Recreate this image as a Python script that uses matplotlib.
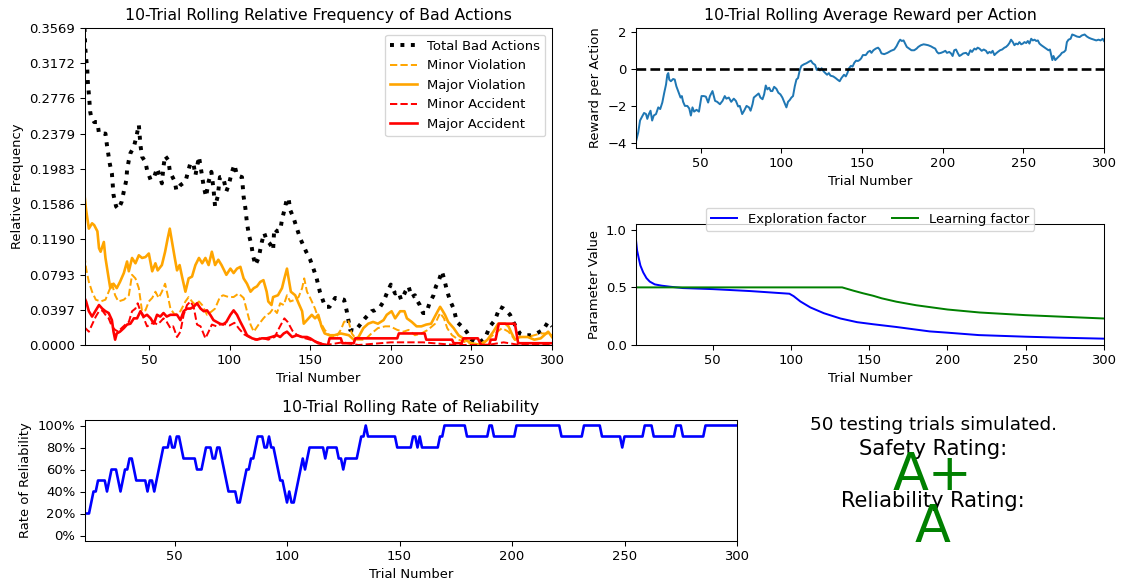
import numpy as np
import matplotlib
matplotlib.use("Agg")
import matplotlib.pyplot as plt

# ---------------- data ----------------
total_t = [10, 10.5, 11, 11.7, 12, 12.5, 13, 13.5, 14, 16, 18, 19, 23, 24, 25.7, 27, 28, 29.6, 31, 33,
           34.4, 36, 36.4, 37.5, 38.5, 40.6, 42, 43.7, 44.7, 45.7, 47.8, 48.8, 51, 53, 55, 57, 58, 59, 60, 62,
           63, 66, 67, 69.5, 72.6, 75.7, 77.7, 78.8, 81, 82, 84, 85.4, 87, 88.7, 90, 91, 92.6, 94, 96, 98,
           99.4, 101.5, 103, 104.6, 107.7, 108.7, 109.8, 110.8, 112, 113.5, 114.5, 116, 118, 120, 121.5, 123,
           125, 127, 127.7, 129.4, 131.4, 132.5, 134, 135.6, 136.6, 137.6, 139.7, 141.8, 143.8, 145.5, 147.5,
           150, 152, 154, 156, 159.3, 162, 165.5, 171, 172.7, 174.8, 178, 181, 184, 186, 188, 190, 193.4,
           195.5, 197.5, 200, 202.7, 204.7, 206.4, 208, 209, 211, 213, 215, 216, 218, 220, 222, 224, 226.5,
           228, 229.5, 231.7, 233, 235, 237, 239, 241, 244, 247, 250, 254.3, 258.4, 261.5, 264.6, 267.7, 270,
           272, 274, 276, 280, 283, 287, 290.4, 294.5, 297.6, 300]
total_v = [0.3569, 0.334, 0.323, 0.311, 0.298, 0.287, 0.276, 0.263, 0.258, 0.251, 0.251, 0.238, 0.238, 0.224,
           0.204, 0.193, 0.169, 0.156, 0.153, 0.161, 0.173, 0.186, 0.197, 0.208, 0.216, 0.223, 0.233, 0.248,
           0.225, 0.212, 0.206, 0.197, 0.186, 0.188, 0.199, 0.189, 0.182, 0.201, 0.213, 0.208, 0.195, 0.184,
           0.174, 0.180, 0.184, 0.205, 0.203, 0.191, 0.212, 0.201, 0.178, 0.167, 0.184, 0.195, 0.176, 0.156,
           0.167, 0.189, 0.189, 0.173, 0.180, 0.195, 0.203, 0.191, 0.189, 0.167, 0.154, 0.137, 0.124, 0.113,
           0.101, 0.090, 0.098, 0.116, 0.126, 0.118, 0.114, 0.107, 0.131, 0.128, 0.129, 0.141, 0.152, 0.165,
           0.165, 0.152, 0.143, 0.131, 0.120, 0.113, 0.105, 0.096, 0.086, 0.075, 0.060, 0.043, 0.043, 0.053,
           0.051, 0.038, 0.017, 0.016, 0.023, 0.030, 0.034, 0.038, 0.039, 0.043, 0.049, 0.058, 0.068, 0.058,
           0.060, 0.051, 0.056, 0.060, 0.066, 0.054, 0.056, 0.051, 0.045, 0.036, 0.036, 0.047, 0.056, 0.066,
           0.071, 0.083, 0.075, 0.060, 0.049, 0.041, 0.026, 0.021, 0.015, 0.006, 0.002, 0.0075, 0.021, 0.028,
           0.043, 0.041, 0.038, 0.034, 0.026, 0.013, 0.011, 0.011, 0.013, 0.017, 0.026, 0.021]

minor_viol_t = [10, 11, 12.7, 14.7, 17, 20, 23, 25, 27, 29, 31, 34.4, 37.5, 39.5, 41.6, 43.7, 45.7, 47.8, 49.9,
                52, 54, 56, 58, 60, 61.6, 63.3, 66, 69.5, 72.6, 74.6, 76.7, 78.8, 81, 83, 86, 89, 91, 94, 96,
                99.4, 102.5, 105.6, 108.7, 110.8, 113, 115, 118, 121, 123, 125, 127, 129.4, 131.4, 133.6,
                135.6, 137.6, 140.7, 142.8, 145, 146.3, 148, 150, 153, 155, 159, 163, 166, 169, 171, 173.6,
                175.8, 178.8, 184, 188, 192, 196.5, 199.6, 204, 208, 211, 215, 219, 223, 227.5, 230.6, 233,
                235, 238, 242, 248, 254, 260, 264.6, 269, 273, 277, 281, 285, 289, 293, 297.6, 300]
minor_viol_v = [0.101, 0.086, 0.071, 0.060, 0.051, 0.049, 0.051, 0.060, 0.069, 0.056, 0.049, 0.051, 0.056,
                0.079, 0.075, 0.064, 0.038, 0.039, 0.049, 0.053, 0.060, 0.053, 0.060, 0.069, 0.056, 0.041,
                0.034, 0.038, 0.049, 0.054, 0.049, 0.045, 0.049, 0.045, 0.034, 0.038, 0.041, 0.054, 0.056,
                0.054, 0.054, 0.058, 0.053, 0.038, 0.023, 0.015, 0.023, 0.030, 0.034, 0.036, 0.041, 0.036,
                0.047, 0.045, 0.056, 0.049, 0.051, 0.054, 0.064, 0.075, 0.060, 0.053, 0.041, 0.030, 0.017,
                0.009, 0.009, 0.017, 0.026, 0.028, 0.013, 0.006, 0.006, 0.013, 0.019, 0.021, 0.021, 0.017,
                0.015, 0.017, 0.011, 0.013, 0.017, 0.024, 0.036, 0.030, 0.019, 0.011, 0.006, 0.002, 0.0,
                0.006, 0.013, 0.019, 0.015, 0.006, 0.009, 0.009, 0.011, 0.013, 0.013, 0.011]

major_viol_t = [10, 11, 12.7, 14.7, 16, 18, 19, 20, 22, 23, 25, 26, 28, 30, 32, 34.4, 36.4, 37.5, 39.5, 41.6,
                43.7, 45.7, 47.8, 49.9, 52, 54, 55.4, 58, 60, 61.6, 62.9, 64.3, 66, 67.4, 69, 70.5, 72.6,
                74.6, 76.7, 78.8, 81, 83, 85, 87, 89, 91, 93, 95, 98, 100.5, 102.5, 104.6, 106.7, 108.7,
                110.8, 113, 115, 117, 119, 121, 123, 124, 126, 127, 130, 132.5, 134, 135.6, 136.6, 138,
                140.7, 142.8, 145, 146, 148, 151, 153, 155, 157, 159, 162, 165, 169, 174, 177, 180, 183,
                186, 189, 192, 195.5, 197.5, 200.5, 202.7, 205.8, 208.5, 210, 213, 216, 219, 222, 225,
                228.5, 230.6, 232, 233.6, 235.6, 239, 242, 246, 250, 256, 260, 263.6, 266.6, 271, 273,
                275, 277, 280, 285, 289, 293, 297.6, 300]
major_viol_v = [0.169, 0.152, 0.131, 0.137, 0.135, 0.128, 0.109, 0.105, 0.116, 0.098, 0.075, 0.064, 0.069,
                0.064, 0.071, 0.081, 0.094, 0.083, 0.098, 0.092, 0.101, 0.098, 0.099, 0.103, 0.083, 0.092,
                0.084, 0.090, 0.105, 0.120, 0.131, 0.116, 0.098, 0.084, 0.090, 0.077, 0.060, 0.075, 0.077,
                0.090, 0.098, 0.092, 0.098, 0.090, 0.105, 0.090, 0.096, 0.090, 0.079, 0.086, 0.081, 0.086,
                0.088, 0.075, 0.069, 0.060, 0.064, 0.066, 0.071, 0.073, 0.060, 0.049, 0.045, 0.054, 0.056,
                0.064, 0.075, 0.086, 0.075, 0.060, 0.056, 0.047, 0.038, 0.024, 0.028, 0.034, 0.030, 0.034,
                0.021, 0.013, 0.011, 0.011, 0.013, 0.011, 0.006, 0.009, 0.019, 0.024, 0.026, 0.024, 0.028,
                0.034, 0.038, 0.030, 0.038, 0.038, 0.030, 0.026, 0.021, 0.021, 0.023, 0.024, 0.036, 0.043,
                0.039, 0.034, 0.026, 0.019, 0.011, 0.006, 0.002, 0.0, 0.006, 0.015, 0.024, 0.024, 0.021,
                0.013, 0.006, 0.009, 0.009, 0.006, 0.0075, 0.015, 0.009]

minor_acc_t = [10, 12.7, 14.7, 17, 19, 21, 23, 25, 27, 29, 31, 33, 35.4, 37.5, 39.5, 41.6, 43, 44.7, 46.8,
               48.8, 51, 53, 55, 57, 59, 61, 63.3, 65, 67.4, 69.5, 71.5, 73.6, 75.7, 77.7, 79.8, 82, 85, 87,
               89, 92, 94, 96, 100, 103, 106, 109, 112, 116, 120, 124, 128, 131, 134, 136, 139, 142, 146,
               150, 155, 160, 170, 180, 200, 220, 240, 260, 270, 280, 300]
minor_acc_v = [0.020, 0.015, 0.023, 0.032, 0.038, 0.039, 0.034, 0.030, 0.021, 0.017, 0.015, 0.019, 0.023,
               0.026, 0.038, 0.041, 0.047, 0.038, 0.030, 0.021, 0.023, 0.026, 0.023, 0.026, 0.030, 0.026,
               0.019, 0.021, 0.009, 0.015, 0.034, 0.045, 0.049, 0.043, 0.023, 0.021, 0.0075, 0.015, 0.023,
               0.021, 0.023, 0.024, 0.022, 0.025, 0.018, 0.012, 0.009, 0.006, 0.008, 0.006, 0.009, 0.020,
               0.030, 0.026, 0.016, 0.011, 0.008, 0.006, 0.003, 0.0, 0.003, 0.0, 0.003, 0.003, 0.0, 0.0,
               0.003, 0.0, 0.0]

major_acc_t = [10, 11, 12.7, 14.7, 17, 19, 21, 23, 25, 27, 28, 29, 30, 32, 34.4, 36.4, 38.5, 40.6, 42.6,
               44.7, 46.8, 48.8, 51, 53, 55, 57, 59, 61, 63.3, 67.4, 69.5, 71.5, 73.6, 75.7, 77.7, 79.8, 82,
               84, 86, 88, 90, 92, 94, 96, 98, 100.5, 102.5, 104.6, 106.7, 108.7, 110.8, 114, 117, 120, 123,
               126, 129.4, 131.4, 133.6, 135.6, 138.8, 141.8, 145, 148, 150, 153, 155, 160, 161, 162, 169,
               170, 177, 178, 204, 205, 221, 222, 238, 239, 244, 245, 254, 256, 261, 262, 265, 267, 277, 279,
               300]
major_acc_v = [0.053, 0.049, 0.038, 0.032, 0.039, 0.045, 0.041, 0.038, 0.036, 0.028, 0.015, 0.006, 0.013,
               0.015, 0.019, 0.023, 0.024, 0.030, 0.030, 0.038, 0.032, 0.034, 0.030, 0.024, 0.034, 0.032,
               0.036, 0.032, 0.034, 0.034, 0.028, 0.038, 0.041, 0.041, 0.043, 0.047, 0.041, 0.038, 0.039,
               0.034, 0.028, 0.026, 0.024, 0.023, 0.026, 0.034, 0.039, 0.034, 0.026, 0.019, 0.011, 0.0075,
               0.006, 0.0075, 0.0075, 0.009, 0.011, 0.009, 0.013, 0.015, 0.009, 0.011, 0.009, 0.009, 0.0075,
               0.004, 0.002, 0.0, 0.0, 0.0075, 0.0075, 0.002, 0.002, 0.0075, 0.0075, 0.013, 0.013, 0.006,
               0.006, 0.002, 0.002, 0.0075, 0.0075, 0.0, 0.0, 0.006, 0.006, 0.024, 0.024, 0.002, 0.002]

reward_t = [10, 11.4, 12.5, 13.5, 15, 16.2, 17, 18, 19, 20, 21, 22.4, 23.8, 25, 26.3, 27.5, 28.6, 29.4, 30,
            30.6, 31.6, 33, 34, 35, 36.5, 37.6, 38.4, 39.2, 40.3, 41.8, 43, 44, 45, 46, 47.5, 49, 50.6, 52,
            53.3, 54.7, 55.8, 57.4, 59, 60.3, 62, 63.6, 65, 66, 67.5, 69, 70.6, 71.9, 73.3, 74.3, 75.8, 77,
            78.5, 80, 81, 82.2, 83, 84.6, 86, 87.1, 88.4, 89.4, 90.4, 91.4, 92.5, 93.5, 94.5, 95.6, 97, 98.2,
            99.5, 100.7, 102, 103.2, 104.2, 105.3, 106.3, 107.3, 108.4, 109.4, 110.4, 111.5, 112.5, 114,
            115.6, 117.3, 118.4, 119.5, 121, 122, 123, 124, 125, 126.3, 127.3, 128.4, 129.5, 130.5, 132.2,
            133.7, 134.8, 136.2, 137.3, 138.9, 140, 141, 142, 143.2, 144.2, 145.3, 146.4, 147.5, 148.5,
            149.5, 150.6, 152.4, 153.8, 155, 155.9, 157.1, 158.6, 160, 161, 162.1, 163.8, 165.8, 168, 170,
            171.4, 172.7, 173.7, 174.7, 175.8, 176.8, 177.8, 179.3, 180.7, 182.4, 183.9, 184.9, 186.5,
            188.2, 189.6, 191.1, 192.8, 194.2, 195.4, 196.5, 197.5, 199, 200.4, 201.7, 202.7, 204.1, 205.2,
            206.2, 207.2, 208.3, 209.3, 210.4, 211.4, 212.8, 214.5, 215.9, 217.2, 218.2, 219.7, 220.7,
            221.7, 222.8, 224.2, 225.5, 226.9, 227.9, 229, 230, 231, 232.1, 233.1, 234.2, 235.6, 236.9,
            238.3, 239.3, 240.4, 241.4, 242.4, 243.5, 244.5, 245.5, 246.6, 247.6, 248.7, 249.7, 250.7,
            251.8, 252.8, 253.8, 254.9, 255.9, 257, 258, 259, 260, 261.2, 262.7, 264.2, 265.6, 266.5,
            267.3, 268, 268.7, 269.8, 270.8, 271.8, 272.9, 273.9, 275.2, 276.2, 277, 278, 279.3, 280.3,
            281.8, 283.2, 284.9, 286.3, 288, 289.4, 290.7, 292.1, 293.8, 295.2, 296.6, 297.9, 299.2, 300]
reward_v = [-3.9, -3.4, -2.77, -2.6, -2.36, -2.42, -2.68, -2.42, -2.24, -2.77, -2.5, -2.42, -2.06, -2.15,
            -1.8, -1.27, -0.83, -0.30, -0.21, -0.56, -0.65, -0.53, -0.56, -0.92, -1.27, -1.53, -1.45, -1.76,
            -1.98, -1.98, -2.12, -2.5, -2.06, -2.29, -2.19, -2.29, -1.45, -1.45, -1.48, -1.80, -1.45, -1.18,
            -1.71, -1.76, -1.89, -1.71, -1.45, -1.59, -1.53, -1.76, -1.59, -1.71, -2.01, -1.98, -2.42, -2.24,
            -1.98, -2.06, -2.24, -1.89, -1.53, -1.41, -1.31, -1.53, -1.62, -1.36, -0.88, -1.09, -1.0, -1.18,
            -1.18, -0.95, -1.06, -1.27, -1.36, -1.53, -1.80, -2.06, -1.76, -1.66, -1.53, -1.45, -0.92, -0.56,
            -0.48, -0.04, 0.18, 0.26, 0.32, 0.41, 0.46, 0.32, 0.23, -0.04, 0.05, -0.07, 0.05, -0.12, -0.21,
            -0.30, -0.21, -0.35, -0.39, -0.48, -0.56, -0.65, -0.48, -0.30, -0.39, -0.21, 0.05, 0.18, 0.14,
            0.35, 0.46, 0.44, 0.49, 0.58, 0.76, 0.76, 0.93, 0.99, 0.88, 1.02, 1.11, 1.16, 1.06, 0.85, 0.81,
            0.88, 0.99, 1.06, 1.23, 1.46, 1.59, 1.52, 1.55, 1.38, 1.20, 1.11, 1.02, 1.02, 1.11, 1.20, 1.29,
            1.34, 1.32, 1.29, 1.23, 1.16, 1.11, 0.93, 0.85, 0.88, 0.93, 0.99, 0.88, 0.93, 0.85, 0.71, 1.02,
            1.06, 0.88, 0.71, 0.76, 0.85, 0.88, 0.76, 1.02, 0.93, 1.11, 1.06, 1.16, 1.11, 0.99, 1.06, 0.99,
            0.85, 0.93, 0.88, 0.99, 0.76, 0.85, 0.93, 1.02, 1.06, 1.16, 1.20, 1.29, 1.41, 1.59, 1.46, 1.29,
            1.38, 1.34, 1.46, 1.34, 1.38, 1.46, 1.41, 1.52, 1.38, 1.64, 1.55, 1.59, 1.52, 1.55, 1.38, 1.29,
            1.20, 1.11, 1.02, 1.06, 0.76, 0.49, 0.71, 0.49, 0.58, 0.67, 0.76, 0.88, 0.93, 1.02, 1.46, 1.59,
            1.64, 1.87, 1.82, 1.76, 1.73, 1.82, 1.87, 1.76, 1.69, 1.64, 1.59, 1.55, 1.59, 1.55, 1.64, 1.52]

explore_t = [1, 1.7, 2.8, 3.8, 5.6, 7.7, 9.8, 13, 17.3, 22.6, 31, 50, 74, 99, 101.7, 106, 112.4, 121, 131.6,
             142.3, 152.6, 167.5, 188.6, 200, 220, 250, 274, 300]
explore_v = [0.91, 0.82, 0.75, 0.69, 0.63, 0.58, 0.55, 0.526, 0.515, 0.506, 0.494, 0.485, 0.468, 0.445,
             0.424, 0.378, 0.326, 0.276, 0.230, 0.198, 0.180, 0.156, 0.118, 0.107, 0.086, 0.072, 0.063, 0.055]
learn_t = [1, 132.7, 140, 146, 152.6, 158, 167.3, 180, 200, 220.6, 250, 274, 300]
learn_v = [0.5, 0.5, 0.471, 0.449, 0.427, 0.405, 0.376, 0.345, 0.308, 0.282, 0.259, 0.245, 0.23]

rel_t = [10, 12, 13, 14, 15, 16, 19, 20, 21, 22, 24, 25, 26, 27, 28, 29, 30, 31, 32, 33, 37, 38, 39, 40, 41,
         42, 43, 44, 45, 47, 48, 49, 50, 51, 52, 53, 54, 59, 60, 62, 63, 64, 66, 67, 68, 69, 70, 71, 72, 73,
         74, 77, 78, 79, 80, 81, 82, 83, 84, 85, 86, 87, 89, 90, 91, 92, 93, 94, 95, 96, 97, 98, 99, 100,
         101, 102, 103, 104, 105, 106, 107, 108, 109, 110, 116, 117, 118, 122, 123, 124, 125, 126, 131, 132,
         133, 134, 135, 136, 148, 149, 155, 156, 157, 158, 159, 160, 167, 168, 169, 170, 179, 180, 189, 190,
         191, 192, 201, 202, 221, 222, 231, 232, 239, 240, 248, 249, 250, 258, 259, 262, 263, 272, 273, 275,
         276, 285, 286, 300]
rel_v = [20, 20, 30, 40, 40, 50, 50, 40, 50, 60, 60, 50, 40, 50, 60, 60, 70, 70, 60, 50, 50, 40, 50, 50, 40,
         50, 60, 70, 80, 80, 90, 80, 80, 90, 90, 80, 70, 70, 60, 60, 70, 80, 80, 70, 70, 80, 80, 70, 60, 50,
         40, 40, 30, 30, 40, 50, 60, 60, 70, 70, 80, 90, 90, 80, 80, 90, 80, 80, 70, 60, 50, 50, 40, 30,
         40, 30, 30, 40, 50, 60, 70, 60, 70, 80, 80, 70, 80, 80, 70, 70, 60, 70, 70, 80,
         90, 90, 100, 90, 90, 80, 80, 90, 90, 80, 90, 80, 80, 90, 90, 100, 100, 90, 90, 100,
         100, 90, 90, 100, 100, 90, 90, 100, 100, 90, 90, 80, 90, 90, 100, 100, 90, 90, 100, 100,
         90, 90, 100, 100]

rel_ticks = [0, 20, 40, 60, 80, 100]
rel_ticklabels = ['0%', '20%', '40%', '60%', '80%', '100%']
n_testing = 50
safety_rating, safety_color = 'A+', 'green'
reliability_rating, reliability_color = 'A', 'green'

# ---------------- figure ----------------
DPI = 94.5
W, H = 1122, 584
fig = plt.figure(figsize=(W / DPI, H / DPI), dpi=DPI)

def px_axes(l, t, r, b):
    return fig.add_axes([l / W, 1 - b / H, (r - l) / W, (b - t) / H])

# Bad actions
ax = px_axes(84.5, 28, 552, 345)
ax.set_title("10-Trial Rolling Relative Frequency of Bad Actions")
ax.set_ylabel("Relative Frequency")
ax.set_xlabel("Trial Number")
ax.plot(total_t, total_v, color='black', label='Total Bad Actions', linestyle='dotted', linewidth=3)
ax.plot(minor_viol_t, minor_viol_v, color='orange', label='Minor Violation', linestyle='dashed')
ax.plot(major_viol_t, major_viol_v, color='orange', label='Major Violation', linewidth=2)
ax.plot(minor_acc_t, minor_acc_v, color='red', label='Minor Accident', linestyle='dashed')
ax.plot(major_acc_t, major_acc_v, color='red', label='Major Accident', linewidth=2)
ymax = max(total_v)
ax.set_ylim(0, ymax)
ax.set_xlim(10, 300)
bad_ticks = np.linspace(0, ymax, 10)
ax.set_yticks(bad_ticks)
ax.set_yticklabels(['%.4f' % v for v in bad_ticks])
ax.legend(loc='upper right', fancybox=True)

# Reward
ax = px_axes(636, 28, 1104, 148)
ax.set_title("10-Trial Rolling Average Reward per Action")
ax.set_ylabel("Reward per Action")
ax.set_xlabel("Trial Number")
ax.plot(reward_t, reward_v)
ax.axhline(y=0, color='black', linestyle='dashed', linewidth=2)
ax.set_xlim(10, 300)
ax.set_ylim(-4.25, 2.22)

# Parameters
ax = px_axes(636, 224, 1104, 345)
ax.set_ylabel("Parameter Value")
ax.set_xlabel("Trial Number")
ax.plot(explore_t, explore_v, color='blue', label='Exploration factor')
ax.plot(learn_t, learn_v, color='green', label='Learning factor')
ax.set_xlim(1, 300)
ax.set_ylim(0, 1.05)
ax.legend(bbox_to_anchor=(0.5, 1.19), fancybox=True, ncol=2, loc='upper center', fontsize=10)

# Reliability
ax = px_axes(84.5, 420, 737, 541)
ax.set_title("10-Trial Rolling Rate of Reliability")
ax.set_ylabel("Rate of Reliability")
ax.set_xlabel("Trial Number")
ax.plot(rel_t, rel_v, color='blue', linewidth=2)
ax.set_xlim(10, 300)
ax.set_ylim(-5, 105)
ax.set_yticks(rel_ticks)
ax.set_yticklabels(rel_ticklabels)

# Ratings
cx = 933 / W
fig.text(cx, 1 - 430 / H, "{} testing trials simulated.".format(n_testing), fontsize=14, ha='center', va='baseline')
fig.text(cx, 1 - 455 / H, "Safety Rating:", fontsize=16, ha='center', va='baseline')
fig.text(cx, 1 - 490 / H, safety_rating, fontsize=40, ha='center', va='baseline', color=safety_color)
fig.text(cx, 1 - 507 / H, "Reliability Rating:", fontsize=16, ha='center', va='baseline')
fig.text(cx, 1 - 542 / H, reliability_rating, fontsize=40, ha='center', va='baseline', color=reliability_color)

fig.savefig('out.png', dpi=DPI)
